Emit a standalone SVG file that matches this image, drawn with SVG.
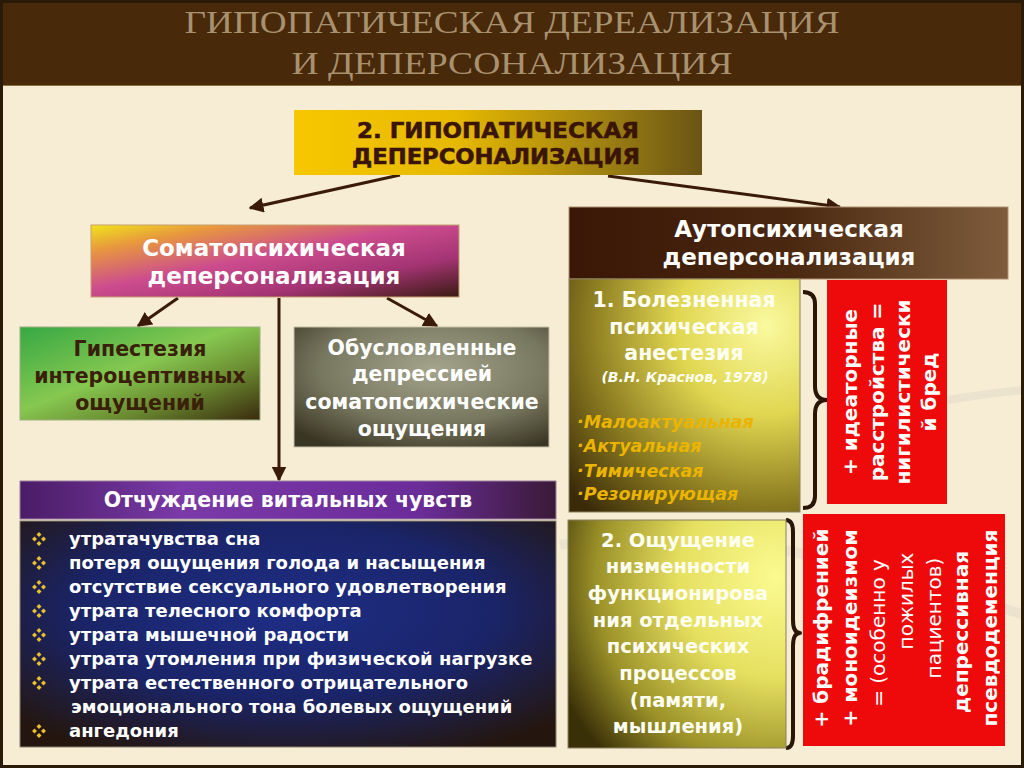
<svg xmlns="http://www.w3.org/2000/svg" width="1024" height="768" viewBox="0 0 1024 768">
<defs>
<style>
.t{font-family:"DejaVu Sans","Noto Sans",sans-serif;font-weight:bold;}
.title{font-family:"Liberation Serif","Noto Serif",serif;font-size:32px;fill:#a8916f;}
.w{fill:#ffffff;}
.wy{fill:#fffff2;}
.c{text-anchor:middle;}
.conn{stroke:#3a1a08;stroke-width:3;fill:none;}
.brace{stroke:#2a1606;stroke-width:4;fill:none;stroke-linejoin:round;}
.li{font-size:18px;fill:#ffffff;}
.it{font-style:italic;fill:#eab400;font-size:17.5px;}
.rot{font-size:20px;fill:#ffffff;text-anchor:middle;}
</style>
<marker id="ah" viewBox="0 0 10 10" refX="9" refY="5" markerWidth="5" markerHeight="5" orient="auto" markerUnits="strokeWidth">
<path d="M0,0 L10,5 L0,10 z" fill="#3a1a08"/>
</marker>
<linearGradient id="gTop" x1="0" y1="0" x2="1" y2="0">
<stop offset="0" stop-color="#f7c800"/><stop offset="0.4" stop-color="#e6b800"/><stop offset="0.75" stop-color="#a08212"/><stop offset="1" stop-color="#6a5414"/>
</linearGradient>
<linearGradient id="gSoma" x1="0" y1="0" x2="1" y2="1">
<stop offset="0" stop-color="#f0e41c"/><stop offset="0.18" stop-color="#e8983e"/><stop offset="0.45" stop-color="#cc4c8e"/><stop offset="0.72" stop-color="#a43474"/><stop offset="1" stop-color="#3a1a10"/>
</linearGradient>
<linearGradient id="gGreen" x1="0" y1="0" x2="1" y2="1">
<stop offset="0" stop-color="#36a844"/><stop offset="0.45" stop-color="#86c850"/><stop offset="0.7" stop-color="#6a8a30"/><stop offset="1" stop-color="#3a2a0e"/>
</linearGradient>
<radialGradient id="gGrey" cx="0.55" cy="0.35" r="0.75">
<stop offset="0" stop-color="#a4a48c"/><stop offset="0.6" stop-color="#77765e"/><stop offset="1" stop-color="#3a3624"/>
</radialGradient>
<linearGradient id="gPurple" x1="0" y1="0" x2="1" y2="0">
<stop offset="0" stop-color="#4a1c66"/><stop offset="0.3" stop-color="#7a3aa8"/><stop offset="0.75" stop-color="#6a2c98"/><stop offset="1" stop-color="#3a1a36"/>
</linearGradient>
<radialGradient id="gBlue" cx="0.5" cy="0.4" r="0.7">
<stop offset="0" stop-color="#1e2e86"/><stop offset="0.55" stop-color="#1a2468"/><stop offset="1" stop-color="#24160e"/>
</radialGradient>
<linearGradient id="gBrown" x1="0" y1="0" x2="1" y2="0">
<stop offset="0" stop-color="#3a1606"/><stop offset="0.5" stop-color="#4a2810"/><stop offset="1" stop-color="#7e5c3c"/>
</linearGradient>
<radialGradient id="gY1" cx="0.85" cy="0.2" r="1.1">
<stop offset="0" stop-color="#fafaa0"/><stop offset="0.35" stop-color="#e0d650"/><stop offset="0.7" stop-color="#8a7a20"/><stop offset="1" stop-color="#3a2a08"/>
</radialGradient>
<radialGradient id="gY2" cx="0.95" cy="0.25" r="1.1">
<stop offset="0" stop-color="#fafa90"/><stop offset="0.4" stop-color="#e6e060"/><stop offset="0.75" stop-color="#9a9028"/><stop offset="1" stop-color="#3a3008"/>
</radialGradient>
<g id="bul" fill="#e8c030">
<path d="M0,-7 L2.5,-4.5 L0,-2 L-2.5,-4.5 z"/>
<path d="M0,7 L2.5,4.5 L0,2 L-2.5,4.5 z"/>
<path d="M-7,0 L-4.5,2.5 L-2,0 L-4.5,-2.5 z"/>
<path d="M7,0 L4.5,2.5 L2,0 L4.5,-2.5 z"/>
</g>
</defs>

<rect x="0" y="0" width="1024" height="768" fill="#f6edd4"/>
<path d="M560,545 C700,520 860,560 1024,615" stroke="#ddd6c6" stroke-width="10" fill="none" opacity="0.45"/>
<path d="M947,400 C980,395 1000,392 1024,390" stroke="#ddd6c6" stroke-width="8" fill="none" opacity="0.45"/>

<g id="title">
<rect x="0" y="0" width="1024" height="85" fill="#48290a"/>
<line x1="0" y1="85.5" x2="1024" y2="85.5" stroke="#8a7040" stroke-width="1"/>
<text class="title" x="512" y="33" text-anchor="middle" textLength="655" lengthAdjust="spacingAndGlyphs">ГИПОПАТИЧЕСКАЯ ДЕРЕАЛИЗАЦИЯ</text>
<text class="title" x="512" y="74" text-anchor="middle" textLength="441" lengthAdjust="spacingAndGlyphs">И ДЕПЕРСОНАЛИЗАЦИЯ</text>
</g>

<g id="connectors">
<line class="conn" x1="400" y1="175" x2="250" y2="208" marker-end="url(#ah)"/>
<line class="conn" x1="608" y1="176" x2="840" y2="207" marker-end="url(#ah)"/>
<line class="conn" x1="178" y1="298" x2="138" y2="326" marker-end="url(#ah)"/>
<line class="conn" x1="387" y1="298" x2="437" y2="326" marker-end="url(#ah)"/>
<line class="conn" x1="279" y1="298" x2="279" y2="480" marker-end="url(#ah)"/>
<path class="brace" d="M803,292 Q815,292 815,304 L815,386 Q815,400 827,400 Q815,400 815,414 L815,496 Q815,508 803,508"/>
<path class="brace" d="M786,520 Q793,520 793,532 L793,620 Q793,633 800,633 Q793,633 793,646 L793,736 Q793,748 786,748"/>
</g>

<g id="node-top">
<rect x="294" y="110" width="408" height="65" fill="url(#gTop)"/>
<text class="t c" x="498" y="138" font-size="22" fill="#3a1505" stroke="#3a1505" stroke-width="0.6" textLength="282" lengthAdjust="spacingAndGlyphs">2. ГИПОПАТИЧЕСКАЯ</text>
<text class="t c" x="496" y="164" font-size="22" fill="#3a1505" stroke="#3a1505" stroke-width="0.6" textLength="288" lengthAdjust="spacingAndGlyphs">ДЕПЕРСОНАЛИЗАЦИЯ</text>
</g>

<g id="node-soma">
<rect x="91" y="225" width="368" height="72" fill="url(#gSoma)" stroke="#c8a070" stroke-width="1"/>
<text class="t c w" x="274" y="256" font-size="23">Соматопсихическая</text>
<text class="t c w" x="274" y="284" font-size="23">деперсонализация</text>
</g>

<g id="node-green">
<rect x="20" y="327" width="240" height="93" fill="url(#gGreen)" stroke="#a0b080" stroke-width="1"/>
<text class="t c" x="140" y="356" font-size="20.5" fill="#3a200a">Гипестезия</text>
<text class="t c" x="140" y="383" font-size="20.5" fill="#3a200a">интероцептивных</text>
<text class="t c" x="140" y="410" font-size="20.5" fill="#3a200a">ощущений</text>
</g>

<g id="node-grey">
<rect x="294" y="327" width="255" height="120" fill="url(#gGrey)" stroke="#c8c0a8" stroke-width="1"/>
<text class="t c w" x="422" y="355" font-size="20.5">Обусловленные</text>
<text class="t c w" x="422" y="381" font-size="20.5">депрессией</text>
<text class="t c w" x="422" y="409" font-size="20.5">соматопсихические</text>
<text class="t c w" x="422" y="436" font-size="20.5">ощущения</text>
</g>

<g id="node-vital">
<rect x="20" y="481" width="536" height="38" fill="url(#gPurple)" stroke="#9a80a0" stroke-width="1"/>
<text class="t c w" x="288" y="507" font-size="20.5">Отчуждение витальных чувств</text>
</g>

<g id="node-list">
<rect x="20" y="521" width="536" height="226" fill="url(#gBlue)" stroke="#8a8070" stroke-width="1"/>
<use href="#bul" x="39" y="539"/>
<use href="#bul" x="39" y="563"/>
<use href="#bul" x="39" y="587"/>
<use href="#bul" x="39" y="611"/>
<use href="#bul" x="39" y="635"/>
<use href="#bul" x="39" y="659"/>
<use href="#bul" x="39" y="683"/>
<use href="#bul" x="39" y="731"/>
<text class="t li" x="69" y="545">утратачувства сна</text>
<text class="t li" x="69" y="569">потеря ощущения голода и насыщения</text>
<text class="t li" x="69" y="593">отсутствие сексуального удовлетворения</text>
<text class="t li" x="69" y="617">утрата телесного комфорта</text>
<text class="t li" x="69" y="641">утрата мышечной радости</text>
<text class="t li" x="69" y="665">утрата утомления при физической нагрузке</text>
<text class="t li" x="69" y="689">утрата естественного отрицательного</text>
<text class="t li" x="71" y="713">эмоционального тона болевых ощущений</text>
<text class="t li" x="69" y="737">ангедония</text>
</g>

<g id="node-auto">
<rect x="569" y="207" width="439" height="72" fill="url(#gBrown)" stroke="#b09070" stroke-width="1"/>
<text class="t c w" x="789" y="237" font-size="23">Аутопсихическая</text>
<text class="t c w" x="789" y="265" font-size="23">деперсонализация</text>
</g>

<g id="node-anest">
<rect x="569" y="279" width="231" height="233" fill="url(#gY1)" stroke="#8a8060" stroke-width="1"/>
<text class="t c wy" x="684" y="307" font-size="20.5">1. Болезненная</text>
<text class="t c wy" x="684" y="334" font-size="20.5">психическая</text>
<text class="t c wy" x="684" y="360" font-size="20.5">анестезия</text>
<text class="t c wy" x="685" y="382" font-size="14" font-style="italic">(В.Н. Краснов, 1978)</text>
<text class="t it" x="577" y="428">·Малоактуальная</text>
<text class="t it" x="577" y="452">·Актуальная</text>
<text class="t it" x="577" y="477">·Тимическая</text>
<text class="t it" x="577" y="500">·Резонирующая</text>
</g>

<g id="node-red1">
<rect x="827" y="280" width="120" height="224" fill="#ee0a0a"/>
<text class="t rot" transform="translate(857,392) rotate(-90)">+ идеаторные</text>
<text class="t rot" transform="translate(884,392) rotate(-90)">расстройства =</text>
<text class="t rot" transform="translate(910,392) rotate(-90)">нигилистически</text>
<text class="t rot" transform="translate(936,392) rotate(-90)">й бред</text>
</g>

<g id="node-func">
<rect x="568" y="520" width="218" height="228" fill="url(#gY2)" stroke="#8a8060" stroke-width="1"/>
<text class="t c wy" x="678" y="547" font-size="19.5">2. Ощущение</text>
<text class="t c wy" x="678" y="573" font-size="19.5">низменности</text>
<text class="t c wy" x="678" y="600" font-size="19.5">функционирова</text>
<text class="t c wy" x="678" y="627" font-size="19.5">ния отдельных</text>
<text class="t c wy" x="678" y="653" font-size="19.5">психических</text>
<text class="t c wy" x="678" y="680" font-size="19.5">процессов</text>
<text class="t c wy" x="678" y="707" font-size="19.5">(памяти,</text>
<text class="t c wy" x="678" y="733" font-size="19.5">мышления)</text>
</g>

<g id="node-red2">
<rect x="803" y="514" width="202" height="232" fill="#ee0a0a"/>
<text class="t rot" transform="translate(828,628) rotate(-90)">+ брадифренией</text>
<text class="t rot" transform="translate(857,628) rotate(-90)">+ моноидеизмом</text>
<text class="rot" font-family="DejaVu Sans,Noto Sans,sans-serif" transform="translate(885,633) rotate(-90)">= (особенно у</text>
<text class="rot" font-family="DejaVu Sans,Noto Sans,sans-serif" transform="translate(913,601) rotate(-90)">пожилых</text>
<text class="rot" font-family="DejaVu Sans,Noto Sans,sans-serif" transform="translate(941,618) rotate(-90)">пациентов)</text>
<text class="t rot" transform="translate(968,632) rotate(-90)">депрессивная</text>
<text class="t rot" transform="translate(997,628) rotate(-90)">псевдодеменция</text>
</g>

<rect x="1.5" y="1.5" width="1021" height="765" fill="none" stroke="#2a1a08" stroke-width="3"/>
</svg>
